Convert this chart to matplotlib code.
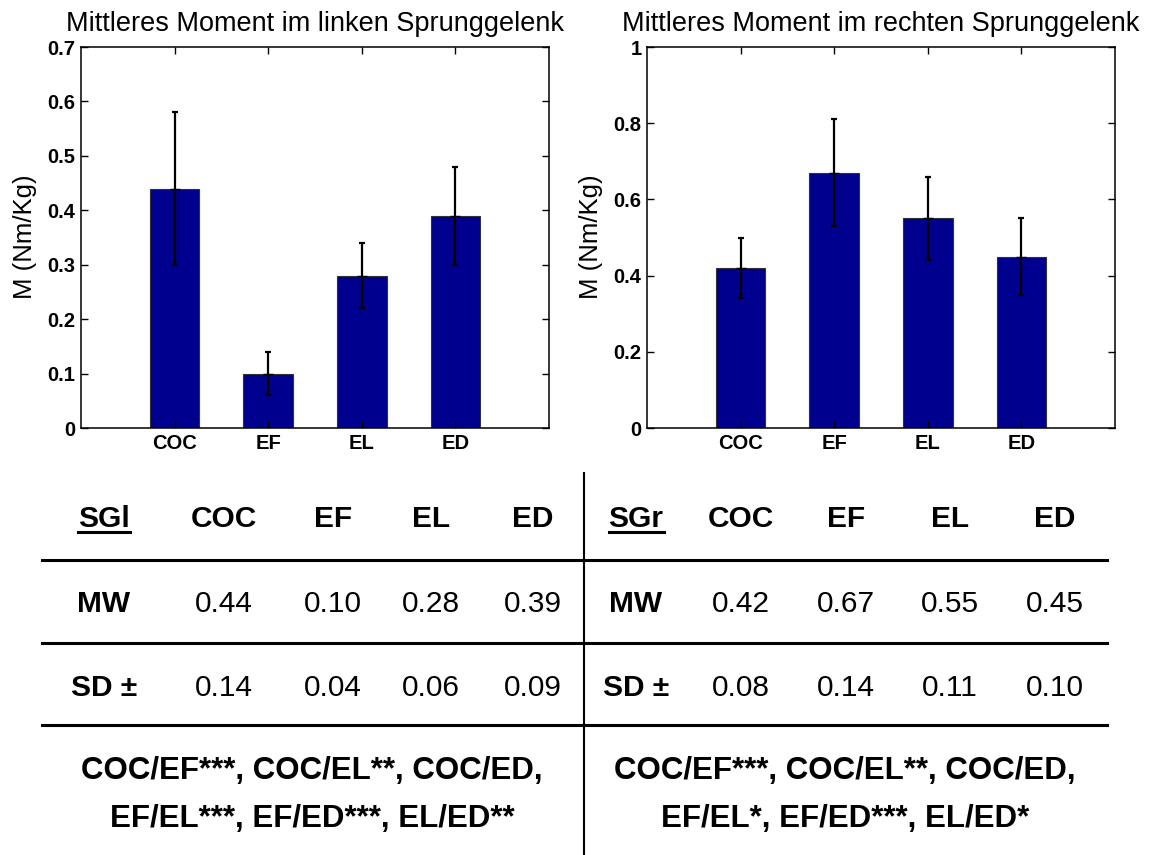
import matplotlib
matplotlib.use("Agg")
from matplotlib import pyplot as plt
from matplotlib.lines import Line2D

plt.rcParams['font.family'] = ['Liberation Sans', 'DejaVu Sans']

W, H = 1159, 855  # figure size in pixels

groups = ['COC', 'EF', 'EL', 'ED']

# mean ankle moment and standard deviation, left and right joint (Nm/Kg)
mw_left = [0.44, 0.10, 0.28, 0.39]
sd_left = [0.14, 0.04, 0.06, 0.09]
mw_right = [0.42, 0.67, 0.55, 0.45]
sd_right = [0.08, 0.14, 0.11, 0.10]

sig_left = ['COC/EF***, COC/EL**, COC/ED,', 'EF/EL***, EF/ED***, EL/ED**']
sig_right = ['COC/EF***, COC/EL**, COC/ED,', 'EF/EL*, EF/ED***, EL/ED*']

bar_color = '#00008F'


def fx(px):
    return px / W


def fy(py):
    return 1 - py / H


fig = plt.figure(figsize=(W / 100, H / 100), dpi=100)


def moment_panel(x0, means, sds, ymax, yticks, title, label_x):
    ax = fig.add_axes([fx(x0), fy(428), fx(468), 381 / H])
    pos = list(range(1, len(groups) + 1))
    ax.bar(pos, means, width=0.53, color=bar_color, edgecolor='#333333', linewidth=0.8)
    ax.errorbar(pos, means, yerr=sds, fmt='_', color='black', ecolor='black',
                elinewidth=1.6, capsize=2.5, capthick=1.6, markersize=7)
    ax.set_xlim(0, 5)
    ax.set_ylim(0, ymax)
    ax.set_xticks(pos)
    ax.set_xticklabels(groups, fontsize=14.5, fontweight='bold')
    ax.set_yticks(yticks)
    ax.set_yticklabels([f"{t:g}" for t in yticks], fontsize=14.5, fontweight='bold')
    ax.tick_params(direction='in', top=True, right=True, length=5, width=1, pad=4)
    for s in ax.spines.values():
        s.set_linewidth(1.1)
    ax.set_title(title, fontsize=19.5, pad=11.5)
    fig.text(fx(label_x), fy(237), 'M (Nm/Kg)', rotation=90, ha='center', va='center',
             fontsize=18.5)
    return ax


moment_panel(81, mw_left, sd_left, 0.7, [0, 0.1, 0.2, 0.3, 0.4, 0.5, 0.6, 0.7],
             'Mittleres Moment im linken Sprunggelenk', 25)
moment_panel(647, mw_right, sd_right, 1.0, [0, 0.2, 0.4, 0.6, 0.8, 1],
             'Mittleres Moment im rechten Sprunggelenk', 591)

# summary table underneath the bar charts
row_header, row_mw, row_sd = 519, 604, 688
line_rows = [560, 643, 725]
text_rows = [771, 819]
tsize = 21.5

for y in line_rows:
    fig.add_artist(Line2D([fx(42), fx(1107)], [fy(y), fy(y)], color='black', linewidth=2.2))
fig.add_artist(Line2D([fx(584), fx(584)], [fy(473), fy(855)], color='black', linewidth=1.5))

halves = [
    ('SGl', [104, 224, 333, 431, 533], mw_left, sd_left, sig_left, 312),
    ('SGr', [636, 741, 846, 950, 1055], mw_right, sd_right, sig_right, 845),
]

underlined = []
for name, cols, mw, sd, sig, cx in halves:
    t = fig.text(fx(cols[0]), fy(row_header), name, ha='center', va='center',
                 fontsize=tsize, fontweight='bold')
    underlined.append(t)
    for c, g in zip(cols[1:], groups):
        fig.text(fx(c), fy(row_header), g, ha='center', va='center',
                 fontsize=tsize, fontweight='bold')
    fig.text(fx(cols[0]), fy(row_mw), 'MW', ha='center', va='center',
             fontsize=tsize, fontweight='bold')
    fig.text(fx(cols[0]), fy(row_sd), 'SD ±', ha='center', va='center',
             fontsize=tsize, fontweight='bold')
    for c, m, s in zip(cols[1:], mw, sd):
        fig.text(fx(c), fy(row_mw), f"{m:.2f}", ha='center', va='center', fontsize=tsize)
        fig.text(fx(c), fy(row_sd), f"{s:.2f}", ha='center', va='center', fontsize=tsize)
    for y, line in zip(text_rows, sig):
        fig.text(fx(cx), fy(y), line, ha='center', va='center',
                 fontsize=22.5, fontweight='bold')

# underline the side labels
fig.canvas.draw()
renderer = fig.canvas.get_renderer()
for t in underlined:
    bb = t.get_window_extent(renderer)
    yline = bb.y0 + 1
    fig.add_artist(Line2D([bb.x0 / W, bb.x1 / W], [yline / H, yline / H],
                          color='black', linewidth=2.2))

fig.savefig('out.png', dpi=100)
